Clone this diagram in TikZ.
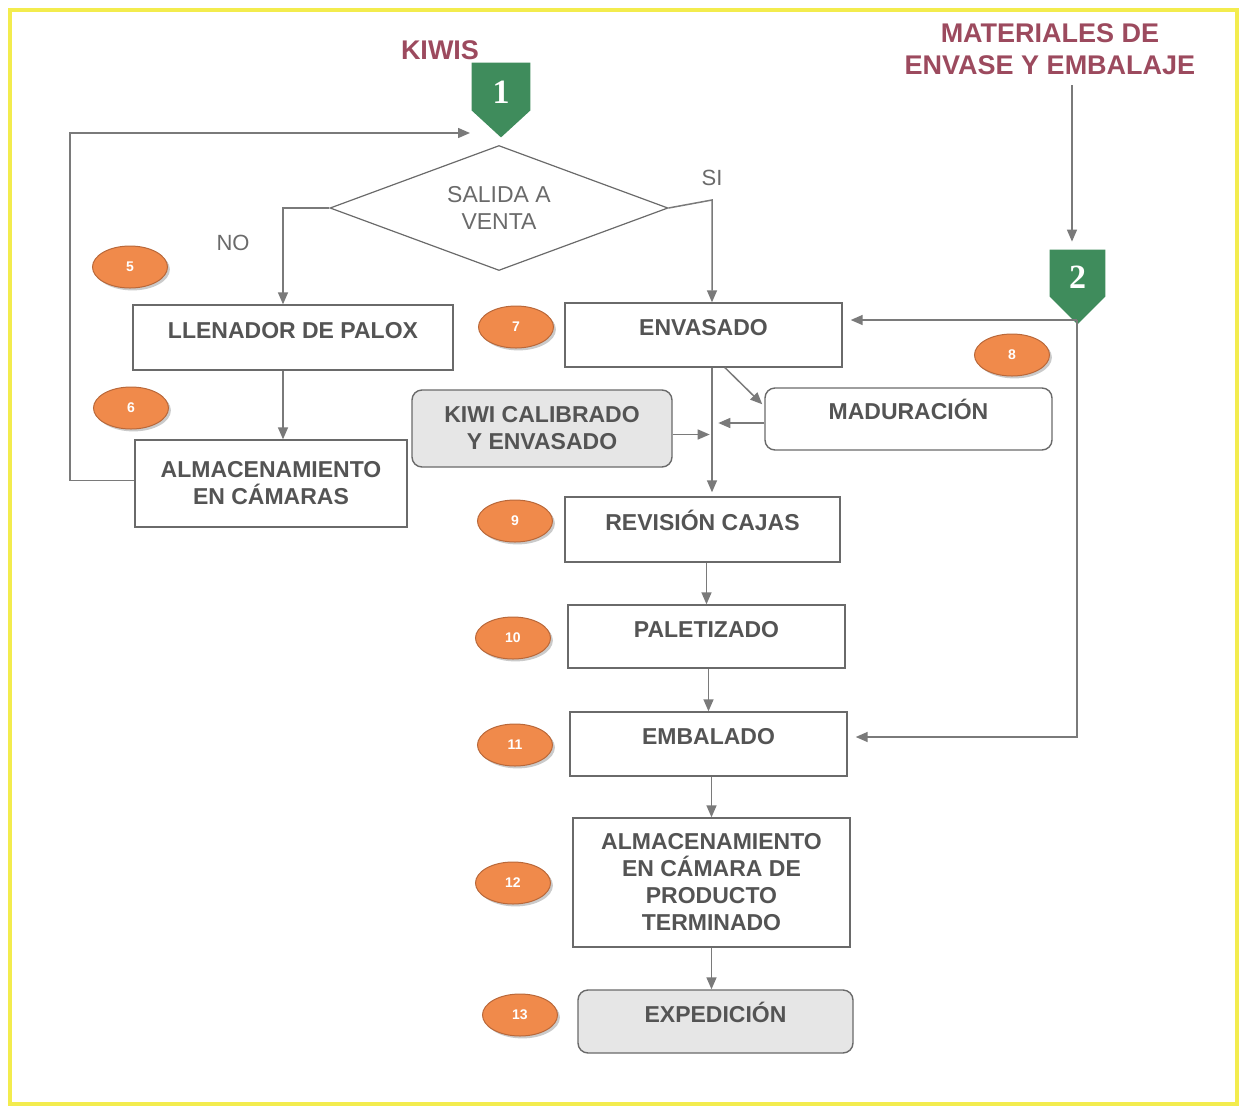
\documentclass[tikz,border=0pt]{standalone}
\usepackage{fontspec}
\setmainfont{Liberation Sans}
\newfontfamily\numfont{Liberation Serif}
\usetikzlibrary{arrows.meta,shapes.geometric,shadows}
\definecolor{txtgray}{HTML}{545454}
\definecolor{linegray}{HTML}{7A7A7A}
\definecolor{boxgray}{HTML}{6A6A6A}
\definecolor{mgreen}{HTML}{3F8C5C}
\definecolor{maroon}{HTML}{9C4A5E}
\definecolor{ovfill}{HTML}{F08A4B}
\definecolor{ovdraw}{HTML}{B9683A}
\definecolor{frameyellow}{HTML}{F3EC4E}
\definecolor{kiwifill}{HTML}{E6E6E6}
\tikzset{
  procbox/.style={draw=boxgray, line width=0.7pt, fill=white, inner sep=2pt,
    font=\fontsize{11.5}{13.5}\selectfont\bfseries, text=txtgray, align=center},
  upper/.style={text height=8.6pt, text depth=8pt},
  roundbox/.style={procbox, rounded corners=5pt},
  graybox/.style={roundbox, fill=kiwifill},
  conn/.style={draw=linegray, line width=0.75pt, -{Triangle[length=6pt,width=5pt]}},
  oval/.style={ellipse, draw=ovdraw, line width=0.5pt, fill=ovfill, minimum width=37.5pt,
    minimum height=21pt, inner sep=0pt, text=white, font=\fontsize{7}{8}\selectfont\bfseries,
    drop shadow={shadow xshift=1.2pt, shadow yshift=-1.2pt, fill=black!35, opacity=0.6}},
  marker/.style={minimum width=29pt, minimum height=37pt, inner sep=0pt},
  markernum/.style={text=white, font=\fontsize{17}{18}\selectfont\numfont\bfseries},
  title/.style={text=maroon, font=\fontsize{13.5}{16}\selectfont\bfseries, align=center},
  lbl/.style={text=boxgray, font=\fontsize{11}{13}\selectfont}
}
\begin{document}
\begin{tikzpicture}[x=0.5pt,y=-0.5pt]
\useasboundingbox (0,0) rectangle (1250,1110);
\draw[frameyellow, line width=1.6pt] (10,10) rectangle (1237,1104);

% titles
\node[title] (kiwis) at (440,50) {KIWIS};
\node[title] (mat) at (1050,49) {MATERIALES DE\\ENVASE Y EMBALAJE};

% markers
\node[marker] (m1) at (501,100) {};
\fill[mgreen] (m1.north west) -- (m1.north east) -- ([yshift=13.5pt]m1.south east) -- (m1.south) -- ([yshift=13.5pt]m1.south west) -- cycle;
\node[markernum] (m1n) at ([yshift=4pt]m1.center) {1};
\node[marker, minimum width=27.5pt] (m2) at (1077.5,287) {};
\fill[mgreen] (m2.north west) -- (m2.north east) -- ([yshift=14pt]m2.south east) -- (m2.south) -- ([yshift=14pt]m2.south west) -- cycle;
\node[markernum] (m2n) at ([yshift=5pt]m2.center) {2};

% decision
\node[diamond, draw=boxgray, line width=0.6pt, aspect=2.7, inner sep=0pt,
  minimum width=169pt, minimum height=62.5pt, align=center, text=boxgray,
  font=\fontsize{11.5}{13.5}\selectfont] (dia) at (499,208) {SALIDA A\\VENTA};
\node[lbl] (no) at (233,243) {NO};
\node[lbl] (si) at (712,178) {SI};

% boxes
\node[procbox, upper, minimum width=160pt, minimum height=32.5pt] (llen) at (293,337.5) {LLENADOR DE PALOX};
\node[procbox, minimum width=136pt, minimum height=43.5pt] (alm) at (271,483.5) {ALMACENAMIENTO\\EN CÁMARAS};
\node[procbox, upper, minimum width=138.5pt, minimum height=32pt] (env) at (703.5,335) {ENVASADO};
\node[roundbox, upper, minimum width=143.5pt, minimum height=31pt] (mad) at (908.5,419) {MADURACIÓN};
\node[graybox, minimum width=130pt, minimum height=38.5pt] (kiwi) at (542,428.5) {KIWI CALIBRADO\\Y ENVASADO};
\node[procbox, upper, minimum width=137.5pt, minimum height=32.5pt] (rev) at (702.5,529.5) {REVISIÓN CAJAS};
\node[procbox, upper, minimum width=138.5pt, minimum height=31.5pt] (pal) at (706.5,636.5) {PALETIZADO};
\node[procbox, upper, minimum width=138.5pt, minimum height=32pt] (emb) at (708.5,744) {EMBALADO};
\node[procbox, minimum width=138.5pt, minimum height=64.5pt] (apt) at (711.5,882.5) {ALMACENAMIENTO\\EN CÁMARA DE\\PRODUCTO\\TERMINADO};
\node[graybox, upper, minimum width=137.5pt, minimum height=31.5pt] (exp) at (715.5,1021.5) {EXPEDICIÓN};

% ovals
\node[oval] (o5) at (130,267) {5};
\node[oval] (o6) at (131,408) {6};
\node[oval] (o7) at (516,327) {7};
\node[oval] (o8) at (1012,355) {8};
\node[oval] (o9) at (515,521) {9};
\node[oval] (o10) at (513,638) {10};
\node[oval] (o11) at (515,745) {11};
\node[oval] (o12) at (513,883) {12};
\node[oval] (o13) at (520,1015) {13};

% connectors
\coordinate (noc) at (283,208);
\coordinate (sic) at (712,200);
\coordinate (loopc) at (70,133);
\coordinate (loopend) at (470,133);
\coordinate (mtop) at (1072,85);
\coordinate (m2b) at (1077,320);

\draw[conn] (dia.west) -- (noc) -- (noc |- llen.north);
\draw[conn] (dia.east) -- (sic) -- (sic |- env.north);
\draw[conn] (noc |- llen.south) -- (noc |- alm.north);
\draw[conn] ([yshift=1.5pt]alm.west) -| (loopc) -- (loopend);
\draw[conn, shorten >=4pt] (mtop) -- (mtop |- m2.north);
\draw[conn, shorten >=4pt] (m2b) -- (m2b -| env.east);
\draw[conn, shorten >=4pt] (m2b) |- ([yshift=3.5pt]emb.east);
\draw[conn, shorten >=2pt] (sic |- env.south) -- (sic |- rev.north);
\draw[conn] ([xshift=10.75pt]env.south) -- ([yshift=-8.5pt,xshift=-1pt]mad.north west);
\draw[conn] ([yshift=-2pt]mad.west) -- ++(-23pt,0);
\draw[conn] ([yshift=-3pt]kiwi.east) -- ++(18.5pt,0);
\draw[conn] (rev.south -| pal.north) -- (pal.north);
\draw[conn] (pal.south -| emb.north) -- (emb.north);
\draw[conn] (emb.south -| apt.north) -- (apt.north);
\draw[conn] (apt.south) -- (apt.south |- exp.north);
\end{tikzpicture}
\end{document}
